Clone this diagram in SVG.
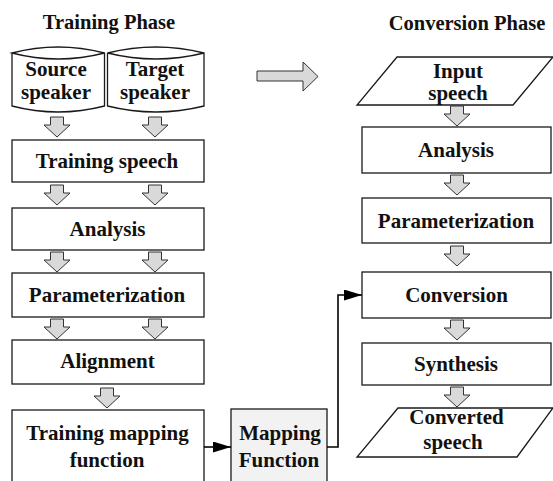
<svg xmlns="http://www.w3.org/2000/svg" width="553" height="481" viewBox="0 0 553 481">
  <style>
    .box { fill: #ffffff; stroke: #1a1a1a; stroke-width: 1.3; }
    .shade { fill: #f2f2f2; }
    text { font-family: 'Liberation Serif', 'Times New Roman', 'DejaVu Serif', serif; font-weight: bold; font-size: 21px; fill: #111111; text-anchor: middle; }
    .title { font-size: 20.5px; }
    .flow { fill: #d9d9d9; stroke: #333333; stroke-width: 1; stroke-linejoin: miter; }
    .link { fill: none; stroke: #000000; stroke-width: 1.6; }
  </style>
  <defs>
    <!-- hollow block arrow pointing down, origin at top centre of the shaft -->
    <polygon id="down" class="flow" points="-6.5,0 6.5,0 6.5,8 13,8 0,20 -13,8 -6.5,8"/>
    <marker id="head" markerUnits="userSpaceOnUse" markerWidth="18" markerHeight="11" viewBox="0 0 18 11" refX="18" refY="5.5" orient="auto">
      <path d="M0,0 L18,5.5 L0,11 z" fill="#000000"/>
    </marker>
  </defs>
  <rect width="553" height="481" fill="#ffffff"/>

  <!-- phase titles -->
  <text class="title" x="109" y="29">Training Phase</text>
  <text class="title" x="467" y="30">Conversion Phase</text>

  <!-- phase transition arrow -->
  <polygon class="flow" points="257,71 303,71 303,62 318,76.5 303,91 303,81 257,81"/>

  <!-- training phase -->
  <g id="source-speaker">
    <path class="box" d="M12,53 V106 Q58,118 104.5,106 V53 Q58,41 12,53 Q58,65 104.5,53"/>
    <text x="56" y="76">Source</text>
    <text x="56" y="99">speaker</text>
  </g>
  <g id="target-speaker">
    <path class="box" d="M107.5,53 V106 Q156,118 204,106 V53 Q156,41 107.5,53 Q156,65 204,53"/>
    <text x="155" y="76">Target</text>
    <text x="155" y="99">speaker</text>
  </g>
  <g id="training-speech">
    <rect class="box" x="12" y="140" width="192" height="42"/>
    <text x="107" y="168">Training speech</text>
  </g>
  <g id="training-analysis">
    <rect class="box" x="12" y="208" width="192" height="42"/>
    <text x="107.5" y="236">Analysis</text>
  </g>
  <g id="training-parameterization">
    <rect class="box" x="12" y="273" width="192" height="44"/>
    <text x="107" y="302">Parameterization</text>
  </g>
  <g id="alignment">
    <rect class="box" x="12" y="340" width="192" height="44"/>
    <text x="107.5" y="368">Alignment</text>
  </g>
  <g id="training-mapping-function">
    <rect class="box" x="12" y="410" width="192" height="80"/>
    <text x="107.5" y="440">Training mapping</text>
    <text x="107" y="467">function</text>
  </g>
  <g id="mapping-function">
    <rect class="box shade" x="231" y="409" width="96" height="81"/>
    <text x="280" y="440">Mapping</text>
    <text x="279" y="467">Function</text>
  </g>

  <!-- conversion phase -->
  <g id="input-speech">
    <polygon class="box" points="397,57 553,57 513,105 357,105"/>
    <text x="458" y="78">Input</text>
    <text x="458" y="100">speech</text>
  </g>
  <g id="conversion-analysis">
    <rect class="box" x="362" y="127" width="189" height="46"/>
    <text x="456" y="157">Analysis</text>
  </g>
  <g id="conversion-parameterization">
    <rect class="box" x="362" y="198" width="189" height="45"/>
    <text x="456" y="228">Parameterization</text>
  </g>
  <g id="conversion">
    <rect class="box" x="362" y="272" width="189" height="46"/>
    <text x="456.5" y="302">Conversion</text>
  </g>
  <g id="synthesis">
    <rect class="box" x="362" y="343" width="189" height="42"/>
    <text x="456" y="371">Synthesis</text>
  </g>
  <g id="converted-speech">
    <polygon class="box" points="398,408 553,408 517,457 357,457"/>
    <text x="456.5" y="424">Converted</text>
    <text x="453" y="449">speech</text>
  </g>

  <!-- connectors -->
  <g id="connectors">
    <use href="#down" x="57" y="117"/>
    <use href="#down" x="155" y="117"/>
    <use href="#down" x="57" y="185"/>
    <use href="#down" x="155" y="185"/>
    <use href="#down" x="57" y="252"/>
    <use href="#down" x="155" y="252"/>
    <use href="#down" x="57" y="319"/>
    <use href="#down" x="155" y="319"/>
    <use href="#down" x="107" y="388"/>
    <use href="#down" x="457" y="106"/>
    <use href="#down" x="457" y="175"/>
    <use href="#down" x="457" y="246"/>
    <use href="#down" x="457" y="320"/>
    <use href="#down" x="457" y="387"/>
    <path class="link" d="M204,447 H231" marker-end="url(#head)"/>
    <path class="link" d="M327,447 H338 V295 H362" marker-end="url(#head)"/>
  </g>
</svg>
